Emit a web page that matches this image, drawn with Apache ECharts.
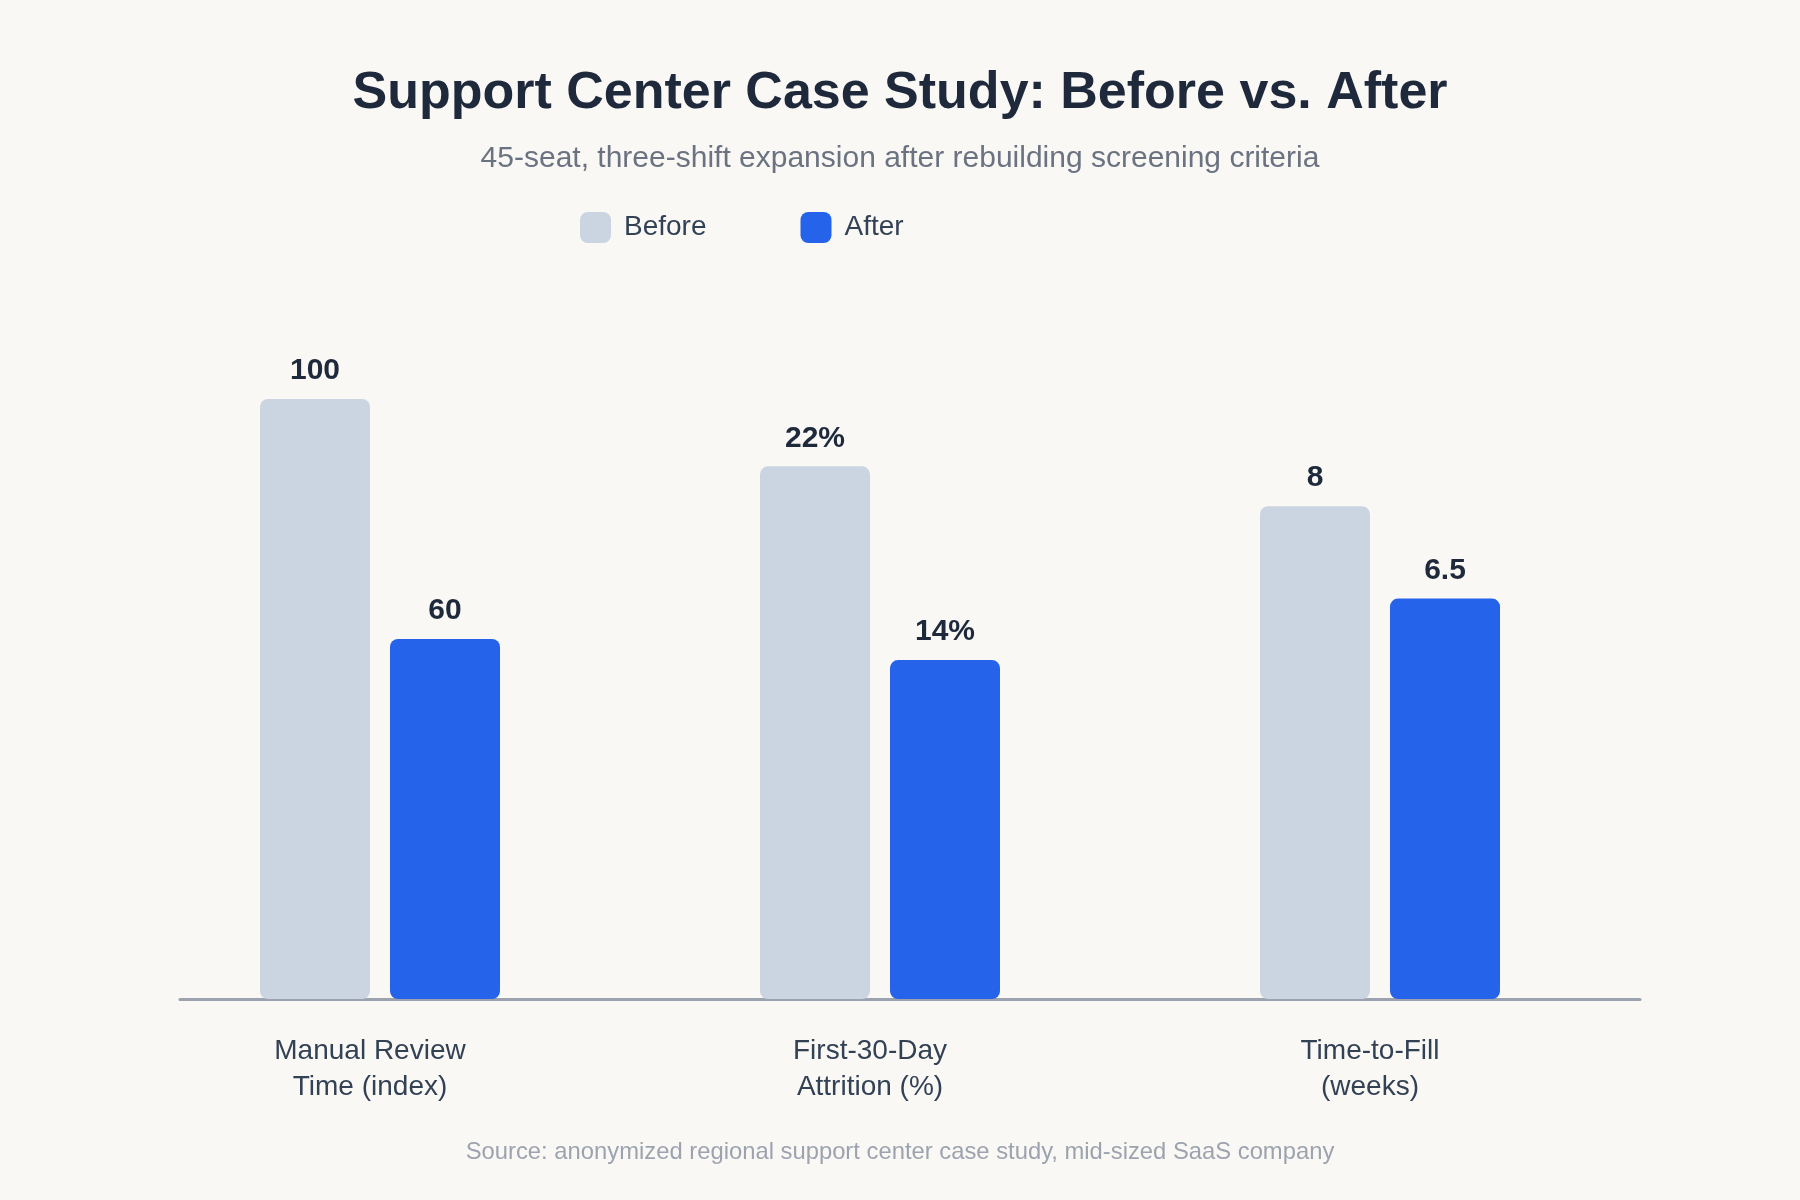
<!DOCTYPE html>
<html>
<head>
<meta charset="utf-8">
<script src="https://cdn.jsdelivr.net/npm/echarts@6/dist/echarts.min.js"></script>
<style>
  html, body { margin: 0; padding: 0; background: #faf8f5; }
  #chart { width: 1800px; height: 1200px; }
</style>
</head>
<body>
<div id="chart"></div>
<script>
// ---- data ----
const categories = ['Manual Review\nTime (index)', 'First-30-Day\nAttrition (%)', 'Time-to-Fill\n(weeks)'];
const beforeValues = [100, 22, 8];
const afterValues = [60, 14, 6.5];
const valueSuffix = ['', '%', ''];
// each metric has its own scale: the value that would reach the top of the plot
const metricAxisMax = [115, 28.5, 11.2];
const seriesNames = ['Before', 'After'];

const FONT = '"Liberation Sans", Arial, Helvetica, sans-serif';

function toScaled(values) {
  return values.map((v, i) => ({ value: v / metricAxisMax[i] * 100, raw: v, idx: i }));
}
function labelFmt(p) {
  return p.data.raw + valueSuffix[p.data.idx];
}

const chart = echarts.init(document.getElementById('chart'));
const option = {
  backgroundColor: '#faf8f5',
  animation: false,
  title: [
    {
      text: 'Support Center Case Study: Before vs. After',
      left: 'center', top: 63,
      textStyle: { fontFamily: FONT, fontSize: 52, fontWeight: 'bold', color: '#1e293b' }
    },
    {
      text: '45-seat, three-shift expansion after rebuilding screening criteria',
      left: 'center', top: 139,
      textStyle: { fontFamily: FONT, fontSize: 30, fontWeight: 'normal', color: '#6b7280' }
    },
    {
      text: 'Source: anonymized regional support center case study, mid-sized SaaS company',
      left: 'center', top: 1135,
      textStyle: { fontFamily: FONT, fontSize: 23.8, fontWeight: 'normal', color: '#9ca3af' }
    }
  ],
  legend: {
    data: seriesNames,
    left: 575, top: 207,
    itemWidth: 31, itemHeight: 31,
    itemGap: 94,
    icon: 'roundRect',
    textStyle: { fontFamily: FONT, fontSize: 28, color: '#334155', padding: [0, 0, 0, 8] }
  },
  grid: [
    { left: 130, right: 170, top: 309, bottom: 201 },
    { left: 180, right: 160, top: 309, bottom: 201 }
  ],
  xAxis: [
    {
      type: 'category', gridIndex: 0, data: categories,
      axisLine: { show: false }, axisTick: { show: false },
      axisLabel: {
        fontFamily: FONT, fontSize: 28, color: '#334155', lineHeight: 36,
        margin: 34, padding: [0, 20, 0, 0], interval: 0
      }
    },
    {
      type: 'category', gridIndex: 1, data: categories,
      axisLine: { show: true, lineStyle: { color: '#9ca3af', width: 3 } },
      axisTick: { show: false }, axisLabel: { show: false }
    }
  ],
  yAxis: [
    { type: 'value', gridIndex: 0, min: 0, max: 100, show: false },
    { type: 'value', gridIndex: 1, min: 0, max: 100, show: false }
  ],
  series: [
    {
      name: 'Before', type: 'bar', xAxisIndex: 0, yAxisIndex: 0,
      data: toScaled(beforeValues),
      barWidth: 110, barGap: '18.18%',
      itemStyle: { color: '#cbd5e1', borderRadius: 8 },
      label: {
        show: true, position: 'top', distance: 13, formatter: labelFmt,
        fontFamily: FONT, fontSize: 30, fontWeight: 'bold', color: '#1e293b'
      }
    },
    {
      name: 'After', type: 'bar', xAxisIndex: 0, yAxisIndex: 0,
      data: toScaled(afterValues),
      barWidth: 110, barGap: '18.18%',
      itemStyle: { color: '#2563eb', borderRadius: 8 },
      label: {
        show: true, position: 'top', distance: 13, formatter: labelFmt,
        fontFamily: FONT, fontSize: 30, fontWeight: 'bold', color: '#1e293b'
      }
    }
  ]
};
chart.setOption(option);
</script>
</body>
</html>
